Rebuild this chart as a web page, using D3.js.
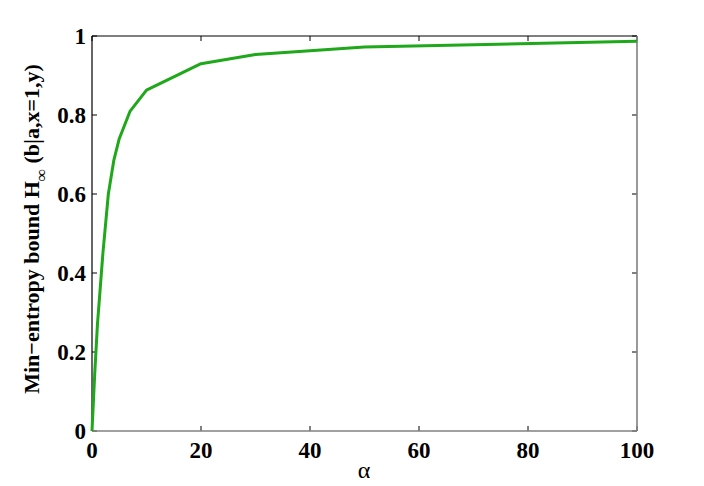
<!DOCTYPE html>
<html><head><meta charset="utf-8">
<script src="https://cdn.jsdelivr.net/npm/d3@7"></script>
<style>body{margin:0;background:#fff;} svg{display:block;}</style>
</head><body>
<script>
const alphaValues = [0, 0.5, 1, 1.5, 2, 3, 4, 5, 7, 10, 20, 30, 50, 100];
const boundValues = [0, 0.145, 0.27, 0.36, 0.45, 0.60, 0.685, 0.74, 0.81, 0.863, 0.93, 0.953, 0.972, 0.987];
const xTicks = [0, 20, 40, 60, 80, 100];
const yTicks = [0, 0.2, 0.4, 0.6, 0.8, 1];

const W = 704, H = 486;
const m = {left: 92, top: 36, right: 704 - 637, bottom: 486 - 431};
const svg = d3.select("body").append("svg").attr("width", W).attr("height", H);
const x = d3.scaleLinear().domain([0, 100]).range([m.left, W - m.right]);
const y = d3.scaleLinear().domain([0, 1]).range([H - m.bottom, m.top]);
const font = "'Liberation Serif', 'Times New Roman', serif";

// ticks (inward) on all four sides
const tl = 5;
const g = svg.append("g").attr("stroke", "#000").attr("stroke-width", 1);
xTicks.forEach(t => {
  g.append("line").attr("x1", x(t)).attr("x2", x(t)).attr("y1", y(0)).attr("y2", y(0) - tl);
  g.append("line").attr("x1", x(t)).attr("x2", x(t)).attr("y1", y(1)).attr("y2", y(1) + tl);
});
yTicks.forEach(t => {
  g.append("line").attr("x1", x(0)).attr("x2", x(0) + tl).attr("y1", y(t)).attr("y2", y(t));
  g.append("line").attr("x1", x(100)).attr("x2", x(100) - tl).attr("y1", y(t)).attr("y2", y(t));
});

// box
svg.append("line").attr("x1", x(0)).attr("x2", x(100)).attr("y1", y(1)).attr("y2", y(1)).attr("stroke", "#000").attr("stroke-width", 1.2);
svg.append("line").attr("x1", x(0)).attr("x2", x(0)).attr("y1", y(0)).attr("y2", y(1)).attr("stroke", "#000").attr("stroke-width", 1.2);
svg.append("line").attr("x1", x(0)).attr("x2", x(100)).attr("y1", y(0)).attr("y2", y(0)).attr("stroke", "#808080").attr("stroke-width", 1.6);
svg.append("line").attr("x1", x(100)).attr("x2", x(100)).attr("y1", y(0)).attr("y2", y(1)).attr("stroke", "#808080").attr("stroke-width", 1.6);

// line
const data = alphaValues.map((a, i) => [a, boundValues[i]]);
svg.append("path").datum(data)
  .attr("d", d3.line().x(d => x(d[0])).y(d => y(d[1])))
  .attr("fill", "none").attr("stroke", "#1ea81a").attr("stroke-width", 3).attr("stroke-linejoin", "round");

// tick labels
svg.append("g").selectAll("text").data(xTicks).join("text")
  .attr("x", d => x(d)).attr("y", 458).attr("text-anchor", "middle")
  .attr("font-family", font).attr("font-weight", "bold").attr("font-size", 23)
  .text(d => d);
svg.append("g").selectAll("text").data(yTicks).join("text")
  .attr("x", 86).attr("y", d => y(d) + 8).attr("text-anchor", "end")
  .attr("font-family", font).attr("font-weight", "bold").attr("font-size", 23)
  .text(d => d);

// axis labels
svg.append("text").attr("x", 364).attr("y", 478).attr("text-anchor", "middle")
  .attr("font-family", font).attr("font-size", 24).text("α");

const yl = svg.append("text").attr("transform", "translate(39,229) rotate(-90)")
  .attr("text-anchor", "middle").attr("font-family", font).attr("font-weight", "bold").attr("font-size", 22);
yl.append("tspan").text("Min−entropy bound H");
yl.append("tspan").attr("dy", 8).attr("font-size", 17).text("∞");
yl.append("tspan").attr("dy", -8).text(" (b|a,x=1,y)");
</script>
</body></html>
